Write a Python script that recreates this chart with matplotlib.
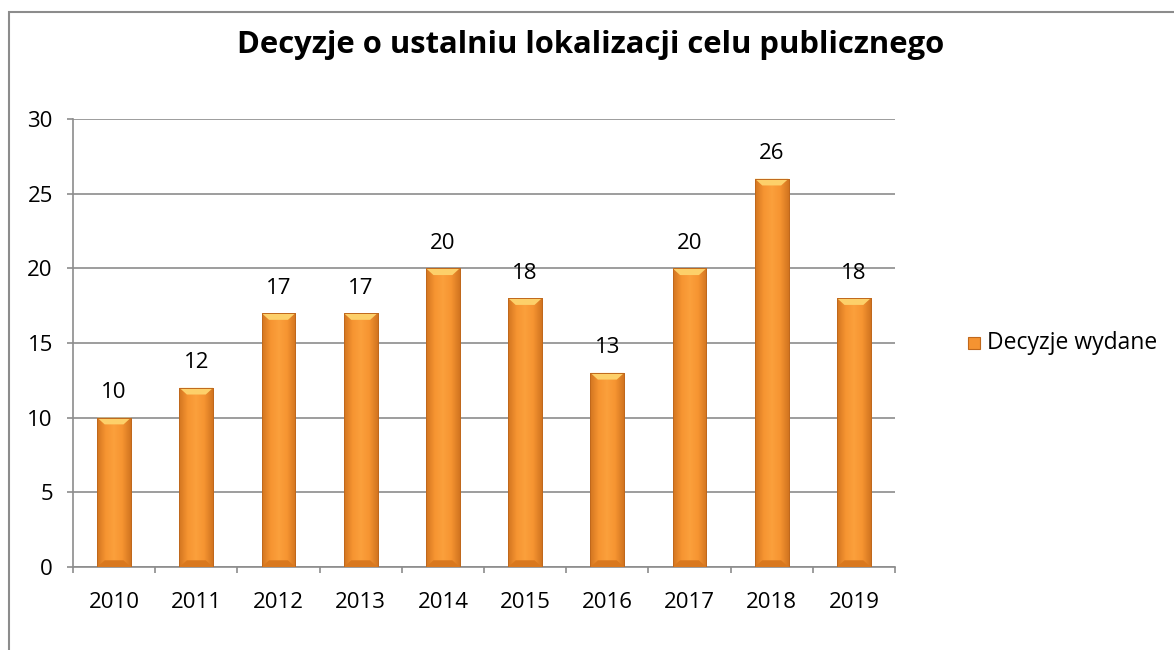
import matplotlib
matplotlib.use("Agg")
import matplotlib.pyplot as plt
import numpy as np
from matplotlib.colors import LinearSegmentedColormap
from matplotlib.patches import Rectangle, Polygon

years = ["2010", "2011", "2012", "2013", "2014", "2015", "2016", "2017", "2018", "2019"]
values = [10, 12, 17, 17, 20, 18, 13, 20, 26, 18]
series_name = "Decyzje wydane"
title = "Decyzje o ustalniu lokalizacji celu publicznego"

plt.rcParams['font.family'] = ['Open Sans', 'DejaVu Sans']

fig = plt.figure(figsize=(11.74, 6.5), dpi=100)
fig.patch.set_facecolor('white')

# outer chart border (extends beyond right/bottom edges)
fig.add_artist(Rectangle((9 / 1174, -0.1), 1.2, 1 - 12 / 650 + 0.1, transform=fig.transFigure,
                         fill=False, edgecolor='#8c8c8c', linewidth=1.5))

ax = fig.add_axes([73 / 1174, 1 - 567 / 650, (895 - 73) / 1174, (567 - 119) / 650])
x = np.arange(len(years))
width = 0.41

cmap = LinearSegmentedColormap.from_list('bar', ['#D27520', '#F69431', '#FBA03C', '#F69431', '#D27520'])
grad = np.linspace(0, 1, 64).reshape(1, -1)

bars = ax.bar(x, values, width=width, color='#F59331', edgecolor='#C0681C', linewidth=0.7, zorder=3)
for b in bars:
    x0, y0 = b.get_x(), b.get_y()
    w, h = b.get_width(), b.get_height()
    im = ax.imshow(grad, cmap=cmap, aspect='auto', extent=(x0, x0 + w, y0, y0 + h), zorder=3.5)
    im.set_clip_path(b)
    bev = 0.45
    ax.add_patch(Polygon([(x0, y0 + h), (x0 + w, y0 + h), (x0 + w - w * 0.22, y0 + h - bev),
                          (x0 + w * 0.22, y0 + h - bev)], closed=True,
                         facecolor='#FDD06A', edgecolor='none', zorder=3.6))
    ax.add_patch(Polygon([(x0, y0), (x0 + w, y0), (x0 + w - w * 0.22, y0 + bev),
                          (x0 + w * 0.22, y0 + bev)], closed=True,
                         facecolor='#D9781E', edgecolor='none', zorder=3.6))
    ax.add_patch(Rectangle((x0, y0), w, h, fill=False, edgecolor='#C0681C', linewidth=0.7, zorder=3.7))

for xi, v in zip(x, values):
    ax.annotate(str(v), (xi, v), xytext=(0, 18), textcoords='offset points',
                ha='center', va='center', fontsize=16, color='black', zorder=5)

ax.set_xlim(-0.5, len(years) - 0.5)
ax.set_ylim(0, 30)
ax.set_yticks(range(0, 31, 5))
ax.set_xticks(np.arange(-0.5, len(years), 1.0), minor=False)
ax.set_xticklabels([])
ax.set_xticks(x, minor=True)
ax.set_xticklabels(years, minor=True, fontsize=16)
ax.tick_params(axis='x', which='minor', length=0, pad=18)
ax.tick_params(axis='x', which='major', length=4.5, color='#8c8c8c', width=1.2, direction='out')
ax.tick_params(axis='y', length=4.5, color='#8c8c8c', width=1.2, labelsize=16, pad=10)
ax.grid(axis='y', color='#8c8c8c', linewidth=1.2, zorder=0)
for s in ['top', 'right']:
    ax.spines[s].set_visible(False)
for s in ['left', 'bottom']:
    ax.spines[s].set_color('#8c8c8c')
    ax.spines[s].set_linewidth(1.2)

fig.text(591 / 1174, 1 - 45 / 650, title, ha='center', va='center', fontsize=22.3, fontweight='bold')

# legend
fig.add_artist(Rectangle((968 / 1174, 1 - 349 / 650), 12 / 1174, 12 / 650, transform=fig.transFigure,
                         facecolor='#F59331', edgecolor='#C0681C', linewidth=0.8))
fig.text(987 / 1174, 1 - 343 / 650, series_name, ha='left', va='center', fontsize=16.5)

fig.savefig('out.png', dpi=100)
